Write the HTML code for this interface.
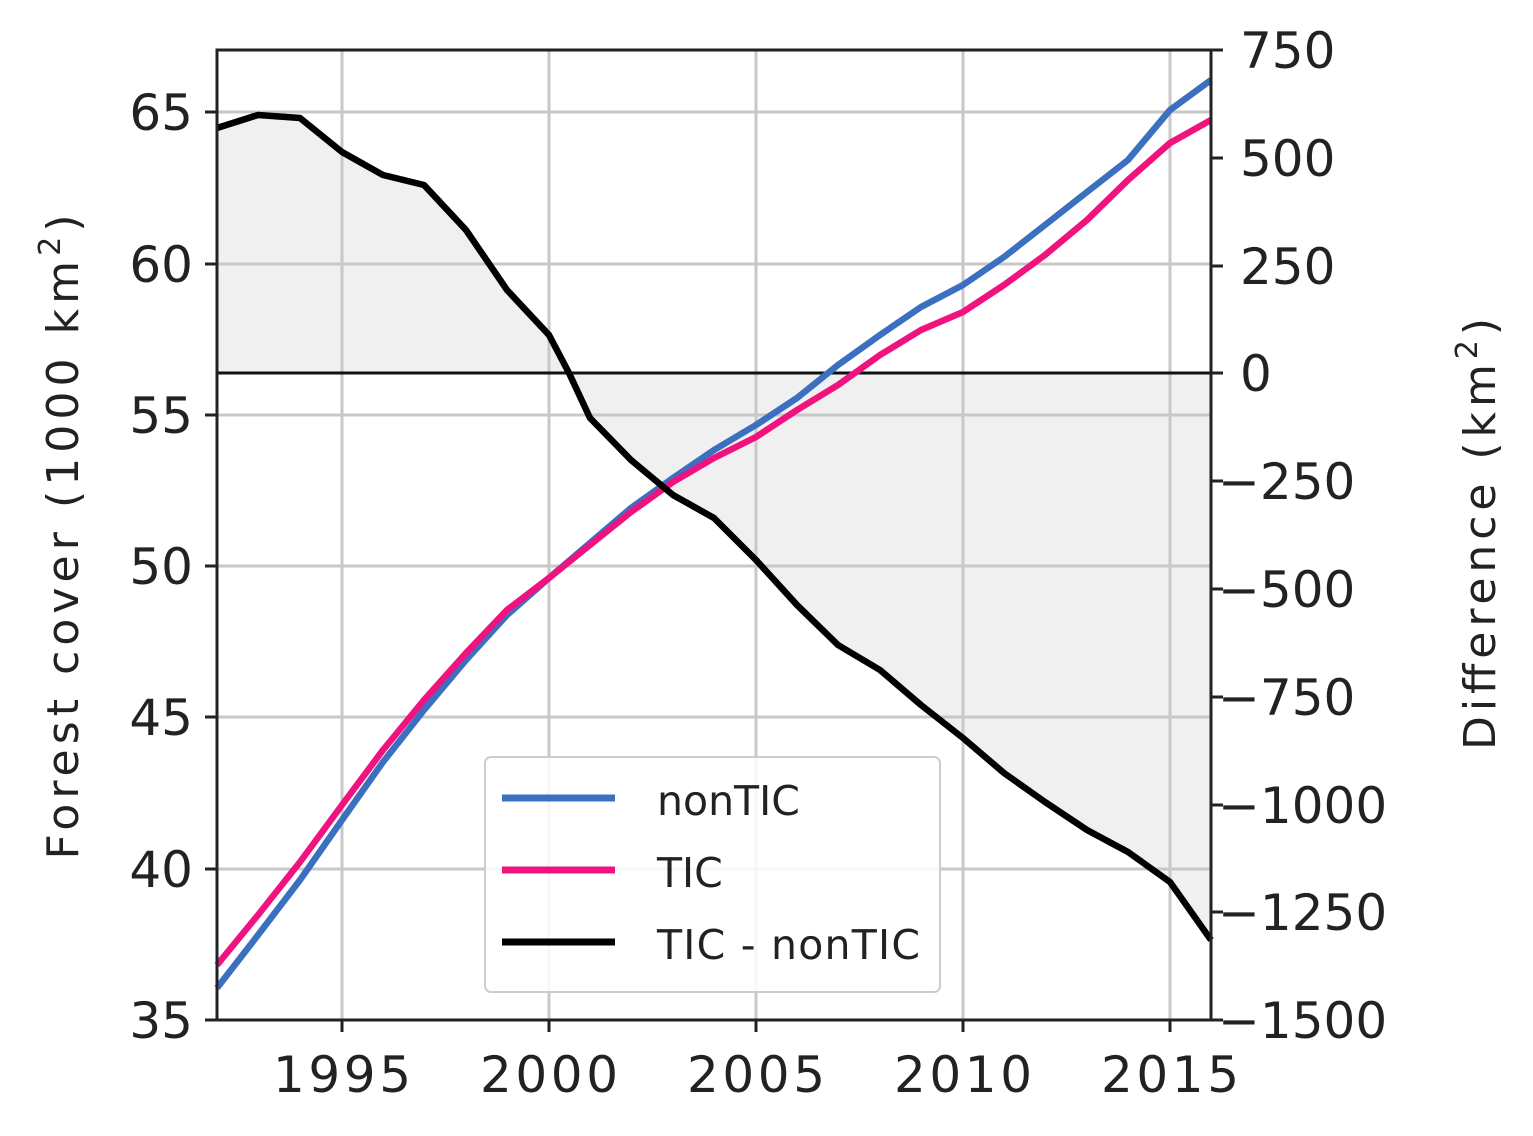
<!DOCTYPE html>
<html><head><meta charset="utf-8"><style>
body{margin:0;background:#fff;}
text{font-family:"DejaVu Sans",sans-serif;fill:#222;}
</style></head><body>
<svg width="1533" height="1131" viewBox="0 0 1533 1131" xmlns="http://www.w3.org/2000/svg">
<rect width="1533" height="1131" fill="#fff"/>
<polygon fill="#f0f0f0" points="217,373 217,128 258,115 300,118 342,152 383,175 424,185 466,230 507,290 549,335 569,373 590,418 631,460 673,495 714,518 756,560 797,605 838,645 880,670 921,705 963,738 1004,773 1045,802 1087,830 1128,852 1170,882 1211,940 1211,373"/>
<g stroke="#c8c8c8" stroke-width="3">
<line x1="342" y1="50" x2="342" y2="1020"/><line x1="549" y1="50" x2="549" y2="1020"/>
<line x1="756" y1="50" x2="756" y2="1020"/><line x1="963" y1="50" x2="963" y2="1020"/>
<line x1="1170" y1="50" x2="1170" y2="1020"/>
<line x1="217" y1="112" x2="1211" y2="112"/><line x1="217" y1="264" x2="1211" y2="264"/>
<line x1="217" y1="415" x2="1211" y2="415"/><line x1="217" y1="566" x2="1211" y2="566"/>
<line x1="217" y1="717" x2="1211" y2="717"/><line x1="217" y1="869" x2="1211" y2="869"/>
</g>
<line x1="217" y1="373" x2="1211" y2="373" stroke="#111" stroke-width="3"/>
<g fill="none" stroke-width="6.5" stroke-linejoin="round">
<polyline stroke="#3b6fbf" points="217,988 258,935 300,880 342,820 383,762 424,710 466,660 507,615 549,578 590,543 631,508 673,478 714,450 756,425 797,398 838,365 880,335 921,307 963,285 1004,257 1045,225 1087,192 1128,160 1170,110 1211,80"/>
<polyline stroke="#f0137f" points="217,965 258,915 300,862 342,805 383,750 424,700 466,653 507,610 549,578 590,545 631,512 673,482 714,458 756,437 797,410 838,385 880,355 921,330 963,312 1004,285 1045,255 1087,220 1128,180 1170,143 1211,120"/>
<polyline stroke="#000" points="217,128 258,115 300,118 342,152 383,175 424,185 466,230 507,290 549,335 569,373 590,418 631,460 673,495 714,518 756,560 797,605 838,645 880,670 921,705 963,738 1004,773 1045,802 1087,830 1128,852 1170,882 1211,940"/>
</g>
<rect x="217" y="50" width="994" height="970" fill="none" stroke="#222" stroke-width="3"/>
<g stroke="#222" stroke-width="3">
<line x1="205" y1="112" x2="217" y2="112"/><line x1="205" y1="264" x2="217" y2="264"/><line x1="205" y1="415" x2="217" y2="415"/><line x1="205" y1="566" x2="217" y2="566"/><line x1="205" y1="717" x2="217" y2="717"/><line x1="205" y1="869" x2="217" y2="869"/><line x1="205" y1="1020" x2="217" y2="1020"/>
<line x1="342" y1="1020" x2="342" y2="1032"/><line x1="549" y1="1020" x2="549" y2="1032"/><line x1="756" y1="1020" x2="756" y2="1032"/><line x1="963" y1="1020" x2="963" y2="1032"/><line x1="1170" y1="1020" x2="1170" y2="1032"/>
<line x1="1211" y1="50" x2="1223" y2="50"/><line x1="1211" y1="158" x2="1223" y2="158"/><line x1="1211" y1="266" x2="1223" y2="266"/><line x1="1211" y1="373" x2="1223" y2="373"/><line x1="1211" y1="481" x2="1223" y2="481"/><line x1="1211" y1="589" x2="1223" y2="589"/><line x1="1211" y1="697" x2="1223" y2="697"/><line x1="1211" y1="805" x2="1223" y2="805"/><line x1="1211" y1="912" x2="1223" y2="912"/><line x1="1211" y1="1020" x2="1223" y2="1020"/>
</g>
<g font-size="50" text-anchor="end">
<text x="193" y="130">65</text><text x="193" y="282">60</text><text x="193" y="433">55</text><text x="193" y="584">50</text><text x="193" y="735">45</text><text x="193" y="887">40</text><text x="193" y="1038">35</text>
</g>
<g font-size="50" text-anchor="middle">
<text x="342" y="1092" textLength="138">1995</text><text x="549" y="1092" textLength="138">2000</text><text x="756" y="1092" textLength="138">2005</text><text x="963" y="1092" textLength="138">2010</text><text x="1170" y="1092" textLength="138">2015</text>
</g>
<g font-size="50" text-anchor="start">
<text x="1240" y="68">750</text><text x="1240" y="176">500</text><text x="1240" y="284">250</text><text x="1240" y="391">0</text><text x="1218" y="499">−250</text><text x="1218" y="607">−500</text><text x="1218" y="715">−750</text><text x="1218" y="823">−1000</text><text x="1218" y="930">−1250</text><text x="1218" y="1038">−1500</text>
</g>
<text font-size="44" transform="translate(78,537) rotate(-90)" text-anchor="middle" textLength="645">Forest cover (1000 km<tspan font-size="30" dy="-18">2</tspan><tspan dy="18">)</tspan></text>
<text font-size="44" transform="translate(1495,534) rotate(-90)" text-anchor="middle" textLength="432">Difference (km<tspan font-size="30" dy="-18">2</tspan><tspan dy="18">)</tspan></text>
<rect x="485" y="757" width="455" height="235" rx="6" fill="#fff" fill-opacity="0.85" stroke="#ccc" stroke-width="2"/>
<line x1="502" y1="798" x2="615" y2="798" stroke="#3b6fbf" stroke-width="7"/>
<line x1="502" y1="870" x2="615" y2="870" stroke="#f0137f" stroke-width="7"/>
<line x1="502" y1="942" x2="615" y2="942" stroke="#000" stroke-width="7"/>
<g font-size="41"><text x="657" y="815">nonTIC</text><text x="657" y="887">TIC</text><text x="657" y="959" textLength="263">TIC - nonTIC</text></g>
</svg>
</body></html>
